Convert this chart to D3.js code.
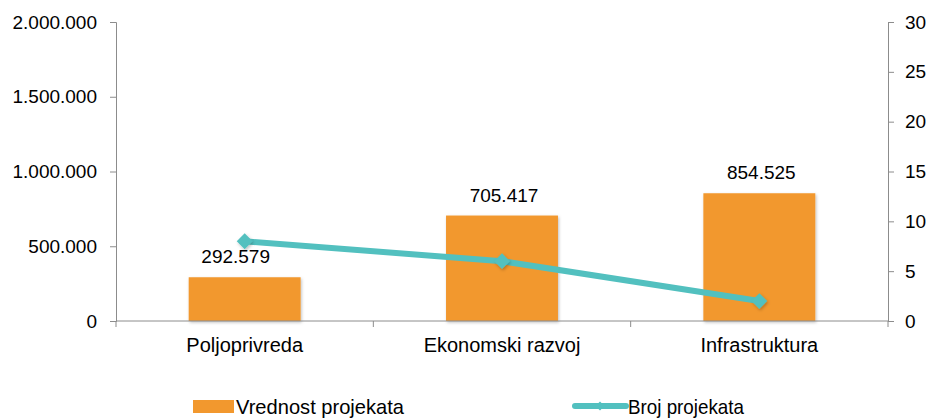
<!DOCTYPE html>
<html>
<head>
<meta charset="utf-8">
<script src="https://cdn.jsdelivr.net/npm/d3@7"></script>
<style>
  body { margin: 0; background: #fff; }
  svg { font-family: "Liberation Sans", Arial, sans-serif; }
</style>
</head>
<body>
<svg width="927" height="419"></svg>
<script>
const categories = ['Poljoprivreda', 'Ekonomski razvoj', 'Infrastruktura'];
const vrednost = [292579, 705417, 854525];
const broj = [8, 6, 2];
const leftTicks = [0, 500000, 1000000, 1500000, 2000000];
const rightTicks = [0, 5, 10, 15, 20, 25, 30];

const margin = { top: 22, right: 39, bottom: 98, left: 116 };
const width = 927 - margin.left - margin.right;
const height = 419 - margin.top - margin.bottom;

const orange = '#F2982E';
const teal = '#52C0BF';
const axisColor = '#8c8c8c';

// dots as thousands separator
const fmt = v => d3.format(',')(v).replace(/,/g, '.');

const svg = d3.select('svg');

const defs = svg.append('defs');
const shadow = defs.append('filter').attr('id', 'shadow')
    .attr('x', '-20%').attr('y', '-20%').attr('width', '140%').attr('height', '140%');
shadow.append('feDropShadow')
    .attr('dx', 1).attr('dy', 1.5).attr('stdDeviation', 1.5)
    .attr('flood-color', '#000').attr('flood-opacity', 0.25);

const g = svg.append('g').attr('transform', `translate(${margin.left},${margin.top})`);

const x = d3.scaleBand().domain(categories).range([0, width]).paddingInner(0.565).paddingOuter(0.2825);
const xPoint = d => x(d) + x.bandwidth() / 2;
const yLeft = d3.scaleLinear().domain([0, 2000000]).range([height, 0]);
const yRight = d3.scaleLinear().domain([0, 30]).range([height, 0]);

// bars
g.selectAll('rect.bar')
    .data(vrednost)
    .enter()
    .append('rect')
    .attr('class', 'bar')
    .attr('x', (d, i) => x(categories[i]))
    .attr('y', d => yLeft(d))
    .attr('width', x.bandwidth())
    .attr('height', d => height - yLeft(d))
    .attr('fill', orange)
    .attr('filter', 'url(#shadow)');

// bar value labels (first one nudged left, away from the marker)
g.selectAll('text.val')
    .data(vrednost)
    .enter()
    .append('text')
    .attr('class', 'val')
    .attr('x', (d, i) => xPoint(categories[i]))
    .attr('dx', (d, i) => i === 0 ? -9 : 2)
    .attr('y', d => yLeft(d) - 14)
    .attr('text-anchor', 'middle')
    .attr('font-size', 19)
    .attr('fill', '#000')
    .text(d => fmt(d));

// left axis
const leftAxis = g.append('g')
    .call(d3.axisLeft(yLeft).tickValues(leftTicks).tickFormat(fmt).tickSize(6).tickSizeOuter(6).tickPadding(13));

// right axis
const rightAxis = g.append('g')
    .attr('transform', `translate(${width},0)`)
    .call(d3.axisRight(yRight).tickValues(rightTicks).tickSize(6).tickSizeOuter(6).tickPadding(11));

// bottom axis: ticks at category boundaries
const bottomAxis = g.append('g').attr('transform', `translate(0,${height})`);
bottomAxis.append('line')
    .attr('x1', 0).attr('x2', width)
    .attr('stroke', axisColor);
const step = width / categories.length;
bottomAxis.selectAll('line.tick')
    .data(d3.range(categories.length + 1))
    .enter()
    .append('line')
    .attr('class', 'tick')
    .attr('x1', d => d * step).attr('x2', d => d * step)
    .attr('y1', 0).attr('y2', 6)
    .attr('stroke', axisColor);
bottomAxis.selectAll('text')
    .data(categories)
    .enter()
    .append('text')
    .attr('x', d => xPoint(d))
    .attr('y', 31)
    .attr('text-anchor', 'middle')
    .attr('font-size', 20)
    .attr('fill', '#000')
    .text(d => d);

[leftAxis, rightAxis].forEach(a => {
    a.select('.domain').attr('stroke', axisColor);
    a.selectAll('.tick line').attr('stroke', axisColor);
    a.selectAll('.tick text').attr('font-size', 19).attr('fill', '#000')
        .attr('font-family', '"Liberation Sans", Arial, sans-serif');
});

// line series
const line = d3.line()
    .x((d, i) => xPoint(categories[i]))
    .y(d => yRight(d));

g.append('path')
    .datum(broj)
    .attr('d', line)
    .attr('fill', 'none')
    .attr('stroke', teal)
    .attr('stroke-width', 6)
    .attr('stroke-linejoin', 'round')
    .attr('stroke-linecap', 'round');

const diamond = d3.symbol().type(d3.symbolDiamond2).size(160);
g.selectAll('path.marker')
    .data(broj)
    .enter()
    .append('path')
    .attr('class', 'marker')
    .attr('d', diamond)
    .attr('transform', (d, i) => `translate(${xPoint(categories[i])},${yRight(d)})`)
    .attr('fill', teal)
    .attr('filter', 'url(#shadow)');

// legend
const legend = svg.append('g').attr('font-size', 21);
legend.append('rect')
    .attr('x', 193).attr('y', 400).attr('width', 41).attr('height', 13)
    .attr('fill', orange);
legend.append('text')
    .attr('x', 236).attr('y', 414)
    .attr('textLength', 168)
    .attr('lengthAdjust', 'spacingAndGlyphs')
    .text('Vrednost projekata');

legend.append('line')
    .attr('x1', 575).attr('x2', 626).attr('y1', 406).attr('y2', 406)
    .attr('stroke', teal).attr('stroke-width', 6).attr('stroke-linecap', 'round');
legend.append('path')
    .attr('d', d3.symbol().type(d3.symbolDiamond2).size(50))
    .attr('transform', 'translate(600,406)')
    .attr('fill', teal);
legend.append('text')
    .attr('x', 628).attr('y', 414)
    .attr('textLength', 116)
    .attr('lengthAdjust', 'spacingAndGlyphs')
    .text('Broj projekata');
</script>
</body>
</html>
